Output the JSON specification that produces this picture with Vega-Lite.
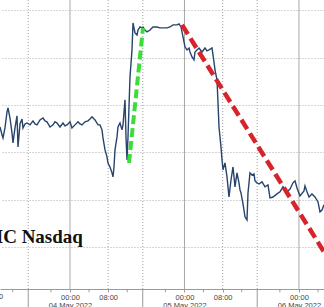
{
  "$schema": "https://vega.github.io/schema/vega-lite/v6.json",
  "width": 324,
  "height": 289,
  "autosize": "none",
  "padding": {"left": 0, "top": 0, "right": 0, "bottom": 18},
  "background": "white",
  "config": {"view": {"stroke": null}, "axis": {"labelOverlap": false}},
  "datasets": {
    "price": [
      {"h": -14.675, "v": 12907}, {"h": -14.256, "v": 12874}, {"h": -14.046, "v": 12861}, {"h": -13.627, "v": 12903},
      {"h": -13.208, "v": 12971}, {"h": -12.998, "v": 12988}, {"h": -12.579, "v": 12945}, {"h": -12.159, "v": 12882},
      {"h": -11.950, "v": 12840}, {"h": -11.530, "v": 12903}, {"h": -11.111, "v": 12954}, {"h": -10.901, "v": 12823},
      {"h": -10.482, "v": 12920}, {"h": -10.063, "v": 12941}, {"h": -9.853, "v": 12903}, {"h": -9.434, "v": 12920},
      {"h": -9.015, "v": 12924}, {"h": -8.386, "v": 12916}, {"h": -7.757, "v": 12933}, {"h": -7.338, "v": 12920},
      {"h": -6.918, "v": 12916}, {"h": -6.289, "v": 12937}, {"h": -5.660, "v": 12945}, {"h": -5.241, "v": 12933},
      {"h": -4.822, "v": 12929}, {"h": -4.193, "v": 12907}, {"h": -3.564, "v": 12916}, {"h": -3.145, "v": 12929},
      {"h": -2.725, "v": 12924}, {"h": -2.096, "v": 12907}, {"h": -1.468, "v": 12924}, {"h": -1.048, "v": 12912},
      {"h": -0.629, "v": 12916}, {"h": 0.000, "v": 12929}, {"h": 0.419, "v": 12903}, {"h": 1.048, "v": 12916},
      {"h": 1.677, "v": 12929}, {"h": 2.096, "v": 12920}, {"h": 2.516, "v": 12916}, {"h": 3.145, "v": 12929},
      {"h": 3.774, "v": 12933}, {"h": 4.193, "v": 12941}, {"h": 4.612, "v": 12950}, {"h": 5.241, "v": 12937},
      {"h": 5.870, "v": 12916}, {"h": 6.289, "v": 12916}, {"h": 6.709, "v": 12895}, {"h": 6.918, "v": 12861},
      {"h": 7.338, "v": 12810}, {"h": 7.757, "v": 12781}, {"h": 7.966, "v": 12755}, {"h": 8.386, "v": 12738},
      {"h": 8.805, "v": 12713}, {"h": 9.015, "v": 12696}, {"h": 9.224, "v": 12738}, {"h": 9.434, "v": 12810},
      {"h": 9.853, "v": 12865}, {"h": 10.063, "v": 12907}, {"h": 10.482, "v": 12924}, {"h": 10.901, "v": 12895},
      {"h": 11.111, "v": 12916}, {"h": 11.530, "v": 13022}, {"h": 11.740, "v": 12865}, {"h": 11.950, "v": 12768},
      {"h": 12.159, "v": 12865}, {"h": 12.579, "v": 13119}, {"h": 12.998, "v": 13233}, {"h": 13.208, "v": 13347},
      {"h": 13.627, "v": 13305}, {"h": 14.046, "v": 13296}, {"h": 14.256, "v": 13317}, {"h": 14.675, "v": 13330},
      {"h": 15.094, "v": 13326}, {"h": 15.304, "v": 13330}, {"h": 15.723, "v": 13317}, {"h": 16.143, "v": 13309},
      {"h": 16.771, "v": 13317}, {"h": 17.400, "v": 13330}, {"h": 18.239, "v": 13330}, {"h": 18.868, "v": 13326},
      {"h": 19.497, "v": 13326}, {"h": 20.335, "v": 13326}, {"h": 20.964, "v": 13330}, {"h": 21.593, "v": 13339},
      {"h": 22.432, "v": 13339}, {"h": 22.851, "v": 13343}, {"h": 23.270, "v": 13330}, {"h": 23.690, "v": 13288},
      {"h": 24.109, "v": 13246}, {"h": 24.528, "v": 13233}, {"h": 24.948, "v": 13241}, {"h": 25.157, "v": 13224},
      {"h": 25.577, "v": 13203}, {"h": 25.996, "v": 13191}, {"h": 26.205, "v": 13224}, {"h": 26.625, "v": 13233},
      {"h": 27.044, "v": 13241}, {"h": 27.673, "v": 13224}, {"h": 28.302, "v": 13241}, {"h": 28.721, "v": 13229},
      {"h": 29.140, "v": 13233}, {"h": 29.769, "v": 13241}, {"h": 29.979, "v": 13212}, {"h": 30.189, "v": 13182},
      {"h": 30.398, "v": 13148}, {"h": 30.818, "v": 13106}, {"h": 31.027, "v": 13009}, {"h": 31.237, "v": 12907},
      {"h": 31.656, "v": 12823}, {"h": 31.866, "v": 12768}, {"h": 32.075, "v": 12726}, {"h": 32.495, "v": 12755},
      {"h": 32.914, "v": 12696}, {"h": 33.124, "v": 12654}, {"h": 33.333, "v": 12611}, {"h": 33.753, "v": 12683},
      {"h": 34.172, "v": 12738}, {"h": 34.382, "v": 12696}, {"h": 34.591, "v": 12654}, {"h": 35.010, "v": 12713},
      {"h": 35.430, "v": 12671}, {"h": 35.639, "v": 12641}, {"h": 35.849, "v": 12628}, {"h": 36.268, "v": 12582},
      {"h": 36.688, "v": 12527}, {"h": 37.107, "v": 12514}, {"h": 37.317, "v": 12628}, {"h": 37.736, "v": 12713},
      {"h": 38.155, "v": 12704}, {"h": 38.574, "v": 12709}, {"h": 38.784, "v": 12679}, {"h": 39.203, "v": 12671},
      {"h": 39.623, "v": 12666}, {"h": 40.252, "v": 12675}, {"h": 40.881, "v": 12654}, {"h": 41.509, "v": 12662},
      {"h": 41.929, "v": 12607}, {"h": 42.558, "v": 12611}, {"h": 43.396, "v": 12624}, {"h": 44.025, "v": 12633},
      {"h": 44.654, "v": 12654}, {"h": 45.493, "v": 12633}, {"h": 46.122, "v": 12645}, {"h": 46.751, "v": 12671},
      {"h": 47.170, "v": 12679}, {"h": 47.589, "v": 12649}, {"h": 48.218, "v": 12616}, {"h": 49.057, "v": 12637},
      {"h": 49.266, "v": 12658}, {"h": 49.686, "v": 12633}, {"h": 50.105, "v": 12611}, {"h": 50.734, "v": 12624},
      {"h": 51.363, "v": 12611}, {"h": 51.992, "v": 12590}, {"h": 52.411, "v": 12548}, {"h": 52.830, "v": 12556},
      {"h": 53.249, "v": 12578}
    ],
    "green": [{"h": 12.369, "v": 12755}, {"h": 15.304, "v": 13326}],
    "red": [{"h": 23.48, "v": 13339}, {"h": 53.25, "v": 12379}],
    "daylines": [{"h": 0}, {"h": 24}, {"h": 48}],
    "sessionlines": [{"h": -8.75}, {"h": 8}, {"h": 15.25}, {"h": 32}, {"h": 39.25}],
    "sessionticks": [{"h": -8.75}, {"h": 15.25}, {"h": 39.25}],
    "minorticks": [{"h": -12}, {"h": -4}, {"h": 4}, {"h": 12}, {"h": 20}, {"h": 28}, {"h": 36}, {"h": 44}, {"h": 52}]
  },
  "layer": [
    {
      "data": {"name": "sessionlines"},
      "mark": {"type": "rule", "color": "#b0b0b0", "strokeWidth": 1.2, "strokeDash": [1, 2]},
      "encoding": {
        "x": {"field": "h", "type": "quantitative", "scale": {"domain": [-14.675, 53.25], "nice": false, "zero": false},
          "axis": {
            "values": [0, 8, 24, 32, 48],
            "labelExpr": "datum.value==0?['00:00','04 May 2022']:datum.value==24?['00:00','05 May 2022']:datum.value==48?['00:00','06 May 2022']:'08:00'",
            "title": null, "grid": false, "domainColor": "#9a9a9a", "tickColor": "#9a9a9a",
            "tickSize": 3, "labelPadding": 1, "labelFont": "Liberation Sans", "labelFontSize": 7.5, "labelColor": "#444",
            "labelLineHeight": 8, "labelFlush": false, "labelOverlap": false, "labelBound": false
          }}
      }
    },
    {
      "data": {"name": "sessionticks"},
      "mark": {"type": "rule", "color": "#9a9a9a", "strokeWidth": 1, "clip": false},
      "encoding": {
        "x": {"field": "h", "type": "quantitative"},
        "y": {"datum": 12222, "type": "quantitative"},
        "y2": {"datum": 12140}
      }
    },
    {
      "data": {"name": "minorticks"},
      "mark": {"type": "rule", "color": "#9a9a9a", "strokeWidth": 1, "clip": false},
      "encoding": {
        "x": {"field": "h", "type": "quantitative"},
        "y": {"datum": 12222, "type": "quantitative"},
        "y2": {"datum": 12208}
      }
    },
    {
      "data": {"name": "daylines"},
      "mark": {"type": "rule", "color": "#a8a8a8", "strokeWidth": 1},
      "encoding": {"x": {"field": "h", "type": "quantitative"}}
    },
    {
      "data": {"name": "price"},
      "mark": {"type": "line", "color": "#26446c", "strokeWidth": 1.4, "clip": true},
      "encoding": {
        "x": {"field": "h", "type": "quantitative"},
        "y": {"field": "v", "type": "quantitative", "scale": {"domain": [12222, 13444], "nice": false, "zero": false},
          "axis": {"orient": "right", "values": [12400, 12600, 12800, 13000, 13200, 13400], "grid": true, "gridColor": "#b0b0b0", "gridDash": [1, 2], "gridWidth": 1.2, "labels": false, "ticks": false, "domain": false, "title": null}}
      }
    },
    {
      "data": {"name": "green"},
      "mark": {"type": "line", "color": "#3ddc3d", "strokeWidth": 4, "strokeDash": [9, 4], "clip": true},
      "encoding": {"x": {"field": "h", "type": "quantitative"}, "y": {"field": "v", "type": "quantitative"}}
    },
    {
      "data": {"name": "red"},
      "mark": {"type": "line", "color": "#d8232a", "strokeWidth": 4.5, "strokeDash": [11, 5], "clip": true},
      "encoding": {"x": {"field": "h", "type": "quantitative"}, "y": {"field": "v", "type": "quantitative"}}
    },
    {
      "data": {"values": [{"label": "08:00"}]},
      "mark": {"type": "text", "align": "center", "baseline": "top", "font": "Liberation Sans", "fontSize": 7.5, "color": "#444", "clip": false},
      "encoding": {
        "x": {"datum": -16, "type": "quantitative"},
        "y": {"datum": 12205, "type": "quantitative"},
        "text": {"field": "label"}
      }
    },
    {
      "data": {"values": [{"label": "MC Nasdaq"}]},
      "mark": {"type": "text", "align": "right", "baseline": "alphabetic", "font": "Liberation Serif", "fontWeight": "bold", "fontSize": 19, "color": "#111"},
      "encoding": {
        "x": {"datum": 2.7, "type": "quantitative"},
        "y": {"datum": 12417, "type": "quantitative"},
        "text": {"field": "label"}
      }
    }
  ]
}
